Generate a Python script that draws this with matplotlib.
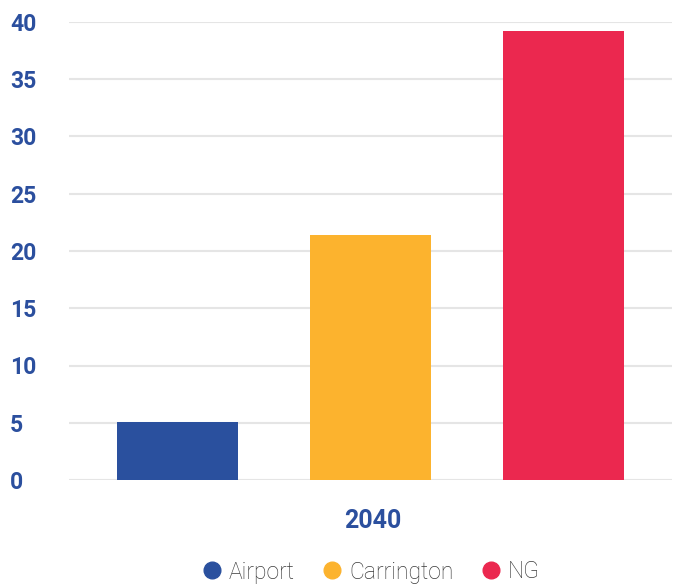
import matplotlib
matplotlib.use("Agg")
import matplotlib.pyplot as plt
from matplotlib.lines import Line2D

categories = ["Airport", "Carrington", "NG"]
values = [5.1, 21.4, 39.2]
colors = ["#2a509e", "#fcb32e", "#eb284f"]
yticks = [0, 5, 10, 15, 20, 25, 30, 35, 40]
group_label = "2040"

label_color = "#2b4f9e"

fig = plt.figure(figsize=(6.74, 5.84), dpi=100)
ax = fig.add_axes([69/674, 104/584, 603/674, 458/584])

x = list(range(len(categories)))
ax.bar(x, values, width=0.625, color=colors, zorder=3)

ax.set_xlim(-0.56, 2.56)
ax.set_ylim(0, 40)
ax.set_yticks(yticks)
ax.set_yticklabels([str(t) for t in yticks])
ax.set_xticks([])
for s in ax.spines.values():
    s.set_visible(False)
ax.yaxis.grid(True, color="#e5e5e5", linewidth=1.5, zorder=0)
ax.set_axisbelow(True)
for lbl in ax.get_yticklabels():
    lbl.set_fontfamily("Roboto")
    lbl.set_fontweight("bold")
    lbl.set_fontsize(16.5)
    lbl.set_color(label_color)
    lbl.set_horizontalalignment("left")
ax.tick_params(axis="y", length=0, pad=(69 - 10) * 0.72)

fig.text(373/674, 1 - 521/584, group_label, ha="center", va="center",
         fontfamily="Roboto", fontweight="bold", fontsize=18, color=label_color)

handles = [Line2D([0], [0], marker="o", linestyle="", markersize=12,
                  markerfacecolor=c, markeredgecolor=c) for c in colors]
leg = fig.legend(handles, categories, loc="center", bbox_to_anchor=(369/674, 1 - 572/584),
                 ncol=3, frameon=False, handletextpad=0.15, columnspacing=1.03,
                 handlelength=1.2,
                 prop={"family": "Roboto", "size": 16.5, "weight": "light"})
for t in leg.get_texts():
    t.set_color("#3a3a3a")

fig.savefig("out.png", dpi=100)
